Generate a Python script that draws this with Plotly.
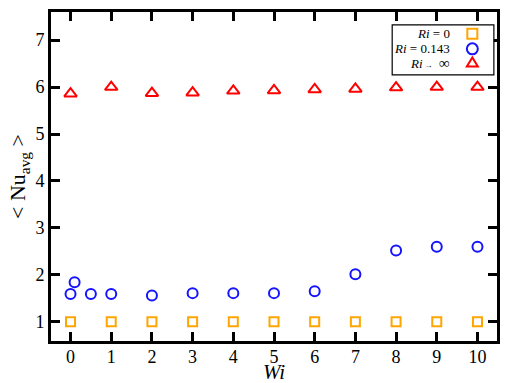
import plotly.graph_objects as go

# Data
wi_ri0 = [0, 1, 2, 3, 4, 5, 6, 7, 8, 9, 10]
nu_ri0 = [1.0, 1.0, 1.0, 1.0, 1.0, 1.0, 1.0, 1.0, 1.0, 1.0, 1.0]

wi_ri0143 = [0, 0.1, 0.5, 1, 2, 3, 4, 5, 6, 7, 8, 9, 10]
nu_ri0143 = [1.59, 1.84, 1.59, 1.59, 1.56, 1.61, 1.61, 1.61, 1.65, 2.01, 2.52, 2.60, 2.60]

wi_riinf = [0, 1, 2, 3, 4, 5, 6, 7, 8, 9, 10]
nu_riinf = [5.86, 6.00, 5.87, 5.88, 5.92, 5.93, 5.95, 5.96, 5.99, 6.00, 6.00]

x_ticks = [0, 1, 2, 3, 4, 5, 6, 7, 8, 9, 10]
y_ticks = [1, 2, 3, 4, 5, 6, 7]

ORANGE = "#FFA500"
BLUE = "#1414FF"
RED = "#FF0000"
FONT = "Liberation Serif"

fig = go.Figure()
fig.add_trace(go.Scatter(x=wi_ri0, y=nu_ri0, mode="markers", name="Ri = 0",
                         marker=dict(symbol="square-open", size=9, color=ORANGE,
                                     line=dict(width=2, color=ORANGE))))
fig.add_trace(go.Scatter(x=wi_ri0143, y=nu_ri0143, mode="markers", name="Ri = 0.143",
                         marker=dict(symbol="circle-open", size=10, color=BLUE,
                                     line=dict(width=2, color=BLUE))))
fig.add_trace(go.Scatter(x=wi_riinf, y=nu_riinf, mode="markers", name="Ri → ∞",
                         marker=dict(symbol="triangle-up-open", size=11, color=RED,
                                     line=dict(width=2, color=RED))))

axis_common = dict(showline=True, linewidth=3, linecolor="black", mirror="ticks",
                   ticks="inside", ticklen=9, tickwidth=2.5, tickcolor="black",
                   showgrid=False, zeroline=False, automargin=False,
                   tickfont=dict(family=FONT, size=18, color="black"))

fig.update_xaxes(range=[-0.48, 10.48], tickvals=x_ticks, ticktext=[str(v) for v in x_ticks],
                 ticklabelstandoff=-3, **axis_common)
fig.update_yaxes(range=[0.59, 7.6], tickvals=y_ticks, ticktext=[str(v) for v in y_ticks],
                 title=dict(text="&lt; Nu<sub>avg</sub> &gt;",
                            font=dict(family=FONT, size=22, color="black"), standoff=4),
                 **axis_common)

# Custom legend (text right-aligned, marker on the right)
box_x0, box_x1, box_y0, box_y1 = 0.765, 0.993, 0.809, 0.961
shapes = [dict(type="rect", xref="paper", yref="paper", x0=box_x0, x1=box_x1,
               y0=box_y0, y1=box_y1, line=dict(color="black", width=1.2),
               fillcolor="white", layer="above")]
rows_y = [0.934, 0.888, 0.845]
mx = 0.9447
shapes.append(dict(type="rect", xref="paper", yref="paper", xsizemode="pixel", ysizemode="pixel",
                   xanchor=mx, yanchor=rows_y[0], x0=-5, x1=5, y0=-5, y1=5,
                   line=dict(color=ORANGE, width=2), layer="above"))
shapes.append(dict(type="circle", xref="paper", yref="paper", xsizemode="pixel", ysizemode="pixel",
                   xanchor=mx, yanchor=rows_y[1], x0=-5.5, x1=5.5, y0=-5.5, y1=5.5,
                   line=dict(color=BLUE, width=2), layer="above"))
shapes.append(dict(type="path", xref="paper", yref="paper", xsizemode="pixel", ysizemode="pixel",
                   xanchor=mx, yanchor=rows_y[2], path="M -5.5 -3.5 L 5.5 -3.5 L 0 5.5 Z",
                   line=dict(color=RED, width=2), layer="above"))
legend_texts = ["<i>Ri</i> = 0", "<i>Ri</i> = 0.143",
                "<i>Ri</i><span style='font-size:8px'> →</span>  <span style='font-size:15px'>∞</span>"]
annotations = []
for t, yy in zip(legend_texts, rows_y):
    annotations.append(dict(text=t, xref="paper", yref="paper", x=0.898, y=yy,
                            xanchor="right", yanchor="middle", showarrow=False,
                            font=dict(family=FONT, size=13, color="black")))
# x-axis title
annotations.append(dict(text="<i>Wi</i>", xref="paper", yref="paper", x=0.5, y=-0.0942,
                        xanchor="center", yanchor="middle", showarrow=False,
                        height=15, borderpad=0,
                        font=dict(family=FONT, size=21, color="black")))

fig.update_layout(width=510, height=383, plot_bgcolor="white", paper_bgcolor="white",
                  margin=dict(l=51, r=13, t=12, b=42), showlegend=False,
                  shapes=shapes, annotations=annotations)

fig.write_html("out.html", config={"displayModeBar": False},
               post_script="document.body.style.margin='0px';document.body.style.overflow='hidden';")
